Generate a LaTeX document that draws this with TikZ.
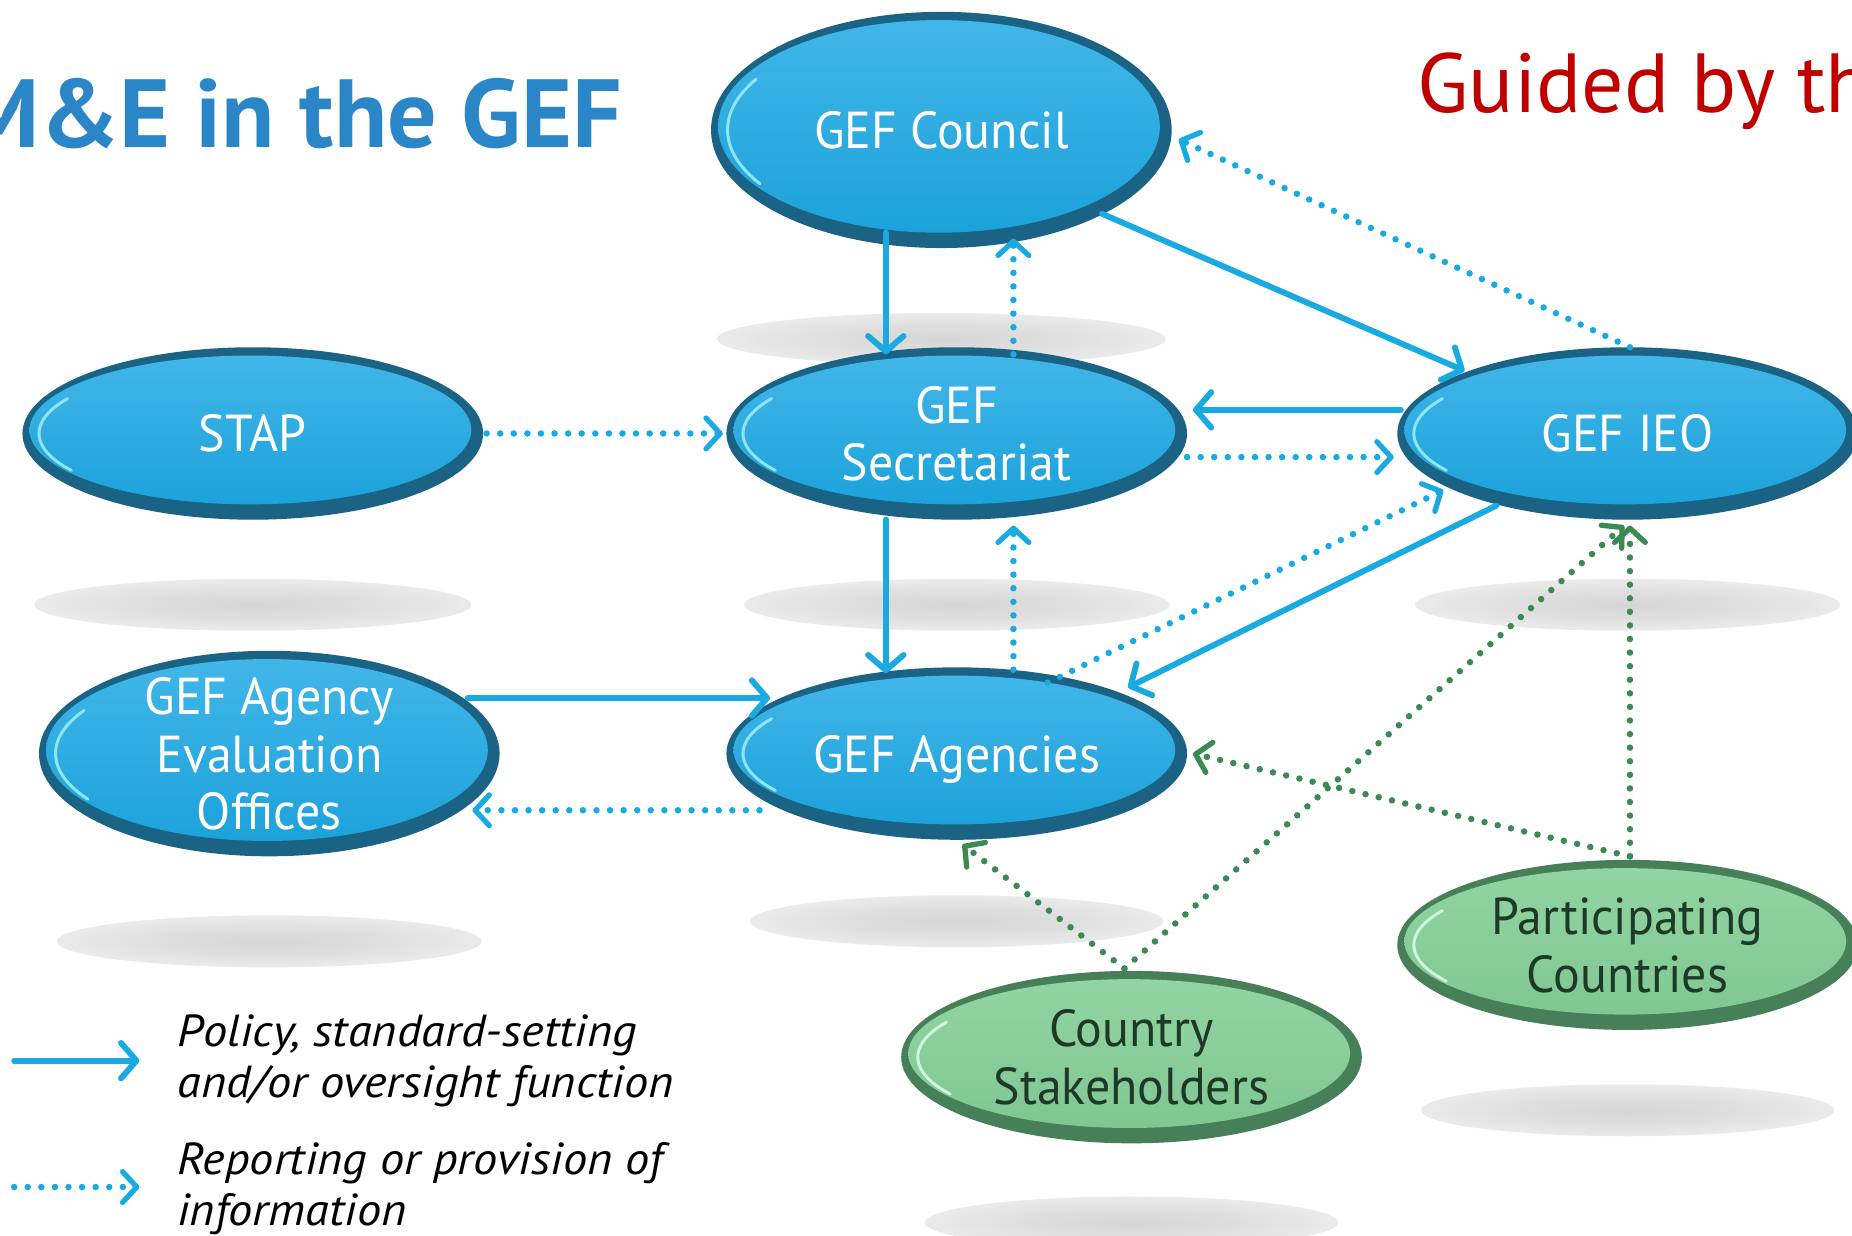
\documentclass[tikz,border=0pt]{standalone}
\usepackage{fontspec}
\setmainfont{PT Sans}
\newfontfamily\gefnodefont{PT Sans}[FakeStretch=0.96]
\newfontfamily\geflegendfont{PT Sans}[FakeStretch=1.08]
\newfontfamily\geftitlefont{PT Sans}[FakeStretch=1.01]
\usetikzlibrary{arrows.meta,calc,shapes.geometric}

\definecolor{arrowblue}{HTML}{1AAAE2}
\definecolor{dotgreen}{HTML}{3A8A52}
\definecolor{bluerim}{HTML}{1B6385}
\definecolor{bluetop}{HTML}{42B6E8}
\definecolor{bluebot}{HTML}{1CA2DA}
\definecolor{bluehl}{HTML}{8FE6FB}
\definecolor{greenrim}{HTML}{467F58}
\definecolor{greentop}{HTML}{92D4A3}
\definecolor{greenbot}{HTML}{80C792}
\definecolor{greenhl}{HTML}{CFF7DA}
\definecolor{titleblue}{HTML}{2A86C7}
\definecolor{guidered}{HTML}{C00000}
\definecolor{greentext}{HTML}{1E3A26}

\pgfdeclareradialshading{gefshadow}{\pgfpoint{0bp}{0bp}}{color(0bp)=(black!16); color(12bp)=(black!13); color(30bp)=(black!6); color(50bp)=(white)}

\tikzset{
  bluetxt/.style={text=white},
  greentxt/.style={text=greentext},
  policyarrow/.style={draw=arrowblue, line width=5pt, line cap=round,
    -{Straight Barb[length=13pt,width=30pt,round]}},
  infoarrow/.style={draw=arrowblue, line width=5.5pt, line cap=round, dash pattern=on 0pt off 11.5pt,
    -{Straight Barb[length=12pt,width=26pt,round,line width=4.5pt]}},
  greeninfo/.style={draw=dotgreen, line width=5.5pt, line cap=round, dash pattern=on 0pt off 11.5pt,
    -{Straight Barb[length=12pt,width=26pt,round,line width=4.5pt]}},
}

% name, x, y, rx, ry, kind, text
\newcommand\gefblob[7]{%
  \fill[#6rim] (#2,#3) ellipse ({#4} and {#5});
  \shade[top color=#6top, bottom color=#6bot] ({#2-2},{#3+3}) ellipse ({#4-8} and {#5-10});
  \draw[#6hl, line width=2.5pt, line cap=round] (#2,#3) ++(150:{#4-14} and {#5-14})
    arc[start angle=150, end angle=212, x radius={#4-14}, y radius={#5-14}];
  \node[#6txt, ellipse, inner sep=0pt, minimum width={2*#4}, minimum height={2*#5},
    text depth=0pt, align=center, font=\gefnodefont\fontsize{44}{49}\selectfont] (#1) at (#2,#3) {#7};
}
\newcommand\gefshadowat[3]{\shade[shading=gefshadow] (#1,#2) ellipse ({#3} and 22);}

\begin{document}
\begin{tikzpicture}[x=1pt,y=1pt]
\useasboundingbox (0,0) rectangle (1568,-1046);
\fill[white] (0,0) rectangle (1568,-1046);

% shadows
\gefshadowat{797}{-287}{190}
\gefshadowat{214}{-512}{185}
\gefshadowat{810}{-512}{180}
\gefshadowat{1378}{-512}{180}
\gefshadowat{228}{-797}{180}
\gefshadowat{810}{-780}{175}
\gefshadowat{1378}{-940}{175}
\gefshadowat{958}{-1035}{175}

% titles
\node[anchor=base east, inner sep=0pt, text=titleblue, font=\geftitlefont\bfseries\fontsize{82}{90}\selectfont] (title) at (527,-125) {M\&E in the GEF};
\node[anchor=base west, inner sep=0pt, text=guidered, font=\fontsize{71}{80}\selectfont] (guided) at (1200,-95) {Guided by the};

% nodes
\gefblob{council}{797}{-110}{195}{100}{blue}{GEF Council}
\gefblob{stap}{214}{-367}{195}{73}{blue}{STAP}
\gefblob{sec}{810}{-367}{195}{73}{blue}{GEF\\Secretariat}
\gefblob{ieo}{1378}{-367}{195}{73}{blue}{GEF IEO}
\gefblob{aeo}{228}{-638}{195}{87}{blue}{GEF Agency\\Evaluation\\Offices}
\gefblob{agen}{810}{-638}{195}{73}{blue}{GEF Agencies}
\gefblob{part}{1378}{-800}{195}{72}{green}{Participating\\Countries}
\gefblob{stak}{958}{-895}{195}{73}{green}{Country\\Stakeholders}

% policy connectors
\draw[policyarrow] ($(council)+(-47,-87)$) -- ($(sec)+(-60,67)$);
\draw[policyarrow] ($(council)+(136,-71)$) -- ($(ieo)+(-138,53)$);
\draw[policyarrow] ($(ieo)+(-192,20)$) -- ($(sec)+(200,20)$);
\draw[policyarrow] ($(sec)+(-60,-73)$) -- ($(agen)+(-60,68)$);
\draw[policyarrow] ($(aeo)+(168,47)$) -- ($(agen)+(-158,47)$);
\draw[policyarrow] ($(ieo)+(-111,-61)$) -- ($(agen)+(145,56)$);

% information connectors
\draw[infoarrow] ($(sec)+(48,67)$) -- ($(council)+(61,-92)$);
\draw[infoarrow] ($(ieo)+(2,73)$) -- ($(council)+(201,-8)$);
\draw[infoarrow] ($(stap)+(198,0)$) -- ($(sec)+(-198,0)$);
\draw[infoarrow] ($(sec)+(195,-20)$) -- ($(ieo)+(-198,-20)$);
\draw[infoarrow] ($(agen)+(77,60)$) -- ($(ieo)+(-156,-48)$);
\draw[infoarrow] ($(agen)+(48,71)$) -- ($(sec)+(48,-78)$);
\draw[infoarrow] ($(agen)+(-167,-48)$) -- ($(aeo)+(172,-48)$);

% country connectors
\draw[greeninfo] ($(stak)+(-6,75)$) -- ($(agen)+(5,-77)$);
\draw[greeninfo] ($(stak)+(-6,75)$) -- ($(ieo)+(-3,-78)$);
\draw[greeninfo] ($(part)+(2,75)$) -- ($(agen)+(200,0)$);
\draw[greeninfo] ($(part)+(2,75)$) -- ($(ieo)+(2,-78)$);

% legend
\coordinate (l1a) at (12,-898);
\coordinate (l1b) at (118,-898);
\coordinate (l2a) at (12,-1005);
\coordinate (l2b) at (118,-1005);
\draw[policyarrow] (l1a) -- (l1b);
\draw[infoarrow] (l2a) -- (l2b);
\node[anchor=north west, inner sep=0pt, align=left, font=\geflegendfont\itshape\fontsize{38}{43}\selectfont] (leg1) at (150,-859) {Policy, standard-setting\\and/or oversight function};
\node[anchor=north west, inner sep=0pt, align=left, font=\geflegendfont\itshape\fontsize{38}{43}\selectfont] (leg2) at (150,-967) {Reporting or provision of\\information};
\end{tikzpicture}
\end{document}
